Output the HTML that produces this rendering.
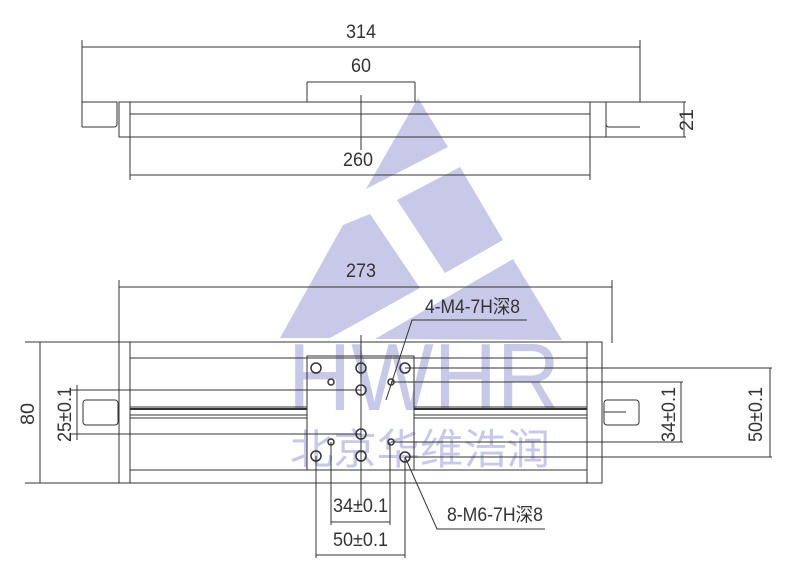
<!DOCTYPE html>
<html><head><meta charset="utf-8"><style>
html,body{margin:0;padding:0;background:#fff;}
svg{display:block;}
.t{font-family:"Liberation Sans",sans-serif;font-size:19px;fill:#333;}
</style></head><body>
<svg width="800" height="574" viewBox="0 0 800 574" xmlns="http://www.w3.org/2000/svg">
<!-- watermark -->
<g fill="#c8c9e8">
<polygon points="418,98 448,147 366,189"/>
<polygon points="397,200 460,167 503,240 445,273"/>
<polygon points="280,338 343,225 370,214 420,288 330,338"/>
<polygon points="375,339 513,259 562,340"/>
<text x="288" y="410" font-family="Liberation Sans,sans-serif" font-size="96" textLength="272" lengthAdjust="spacingAndGlyphs">HWHR</text>
<text x="290" y="464" font-family="'Liberation Sans','Noto Sans CJK SC',sans-serif" font-size="42" textLength="260" lengthAdjust="spacingAndGlyphs">北京华维浩润</text>
</g>
<g stroke="#333" stroke-width="1" fill="none">
<!-- top view -->
<line x1="82" y1="40" x2="82" y2="127"/><line x1="640" y1="40" x2="640" y2="102"/>
<line x1="82" y1="47" x2="640" y2="47"/>
<path d="M82,102 H117 V124 q0,3 -3,3 H82"/>
<path d="M640,102 H606 V124 q0,3 3,3 H640"/>
<rect x="119" y="102" width="487" height="35"/>
<line x1="130" y1="102" x2="130" y2="180"/><line x1="590" y1="102" x2="590" y2="180"/>
<line x1="130" y1="114" x2="590" y2="114"/>
<line x1="606" y1="102" x2="686" y2="102"/>
<line x1="606" y1="137" x2="686" y2="137"/>
<line x1="684" y1="102" x2="684" y2="137"/>
<line x1="307" y1="82" x2="307" y2="102"/><line x1="415" y1="82" x2="415" y2="102"/>
<line x1="307" y1="82" x2="415" y2="82"/>
<line x1="361" y1="95" x2="361" y2="150"/>
<line x1="130" y1="175" x2="590" y2="175"/>
<!-- bottom view -->
<line x1="119" y1="280" x2="119" y2="483"/><line x1="612" y1="280" x2="612" y2="343"/>
<line x1="119" y1="287" x2="612" y2="287"/>
<rect x="119" y="342" width="483" height="141"/>
<line x1="130" y1="342" x2="130" y2="483"/><line x1="587" y1="342" x2="587" y2="483"/>
<line x1="130" y1="358" x2="587" y2="358"/><line x1="130" y1="470" x2="587" y2="470"/>
<line x1="130" y1="407" x2="307" y2="407"/><line x1="414" y1="407" x2="587" y2="407"/>
<line x1="130" y1="409" x2="307" y2="409" stroke-width="2"/><line x1="414" y1="409" x2="587" y2="409" stroke-width="2"/>
<line x1="130" y1="415" x2="307" y2="415"/><line x1="414" y1="415" x2="587" y2="415"/>
<line x1="130" y1="418" x2="307" y2="418"/><line x1="414" y1="418" x2="587" y2="418"/>
<rect x="307" y="356" width="107" height="114"/>
<rect x="83" y="400" width="35" height="25" rx="3"/>
<rect x="604" y="400" width="35" height="25" rx="3"/>
<line x1="604" y1="412" x2="626" y2="412"/>
<line x1="25" y1="342" x2="119" y2="342"/><line x1="25" y1="483" x2="119" y2="483"/>
<line x1="40" y1="342" x2="40" y2="483"/>
<line x1="70" y1="390" x2="361" y2="390"/><line x1="70" y1="434" x2="361" y2="434"/>
<line x1="77" y1="385" x2="77" y2="440"/>
<line x1="405" y1="368" x2="772" y2="368"/><line x1="405" y1="457" x2="772" y2="457"/>
<line x1="770" y1="368" x2="770" y2="457"/>
<line x1="391" y1="382" x2="683" y2="382"/><line x1="391" y1="442" x2="683" y2="442"/>
<line x1="681" y1="382" x2="681" y2="442"/>
<line x1="361" y1="335" x2="361" y2="505"/>
<line x1="316" y1="456" x2="316" y2="558"/><line x1="405" y1="457" x2="405" y2="558"/>
<line x1="331" y1="442" x2="331" y2="525"/><line x1="390" y1="442" x2="390" y2="525"/>
<line x1="331" y1="522" x2="390" y2="522"/><line x1="316" y1="555" x2="405" y2="555"/>
<polyline points="386,400 412,320 527,320"/>
<polyline points="405,457 437,529 545,529"/>
<g stroke-width="1.5">
<circle cx="316" cy="368" r="5"/><circle cx="361" cy="368" r="5"/><circle cx="405" cy="368" r="5"/>
<circle cx="361" cy="390" r="5"/><circle cx="361" cy="434" r="5"/>
<circle cx="316" cy="456" r="5"/><circle cx="361" cy="456" r="5"/><circle cx="405" cy="457" r="5"/>
<circle cx="331" cy="382" r="3"/><circle cx="391" cy="382" r="3"/>
<circle cx="331" cy="442" r="3"/><circle cx="391" cy="442" r="3"/>
</g>
</g>
<g class="t">
<text x="346" y="38" textLength="30" lengthAdjust="spacingAndGlyphs">314</text>
<text x="351" y="72" textLength="20" lengthAdjust="spacingAndGlyphs">60</text>
<text x="343" y="166" textLength="30" lengthAdjust="spacingAndGlyphs">260</text>
<text x="346" y="277" textLength="30" lengthAdjust="spacingAndGlyphs">273</text>
<text x="425" y="313" textLength="95" lengthAdjust="spacingAndGlyphs" style="font-family:'Liberation Sans','Noto Sans CJK SC',sans-serif">4-M4-7H深8</text>
<text x="447" y="521" textLength="96" lengthAdjust="spacingAndGlyphs" style="font-family:'Liberation Sans','Noto Sans CJK SC',sans-serif">8-M6-7H深8</text>
<text x="333" y="512" textLength="55" lengthAdjust="spacingAndGlyphs">34±0.1</text>
<text x="333" y="546" textLength="55" lengthAdjust="spacingAndGlyphs">50±0.1</text>
<text transform="translate(34,425) rotate(-90)" textLength="22" lengthAdjust="spacingAndGlyphs">80</text>
<text transform="translate(71,442) rotate(-90)" textLength="55" lengthAdjust="spacingAndGlyphs">25±0.1</text>
<text transform="translate(675,442) rotate(-90)" textLength="55" lengthAdjust="spacingAndGlyphs">34±0.1</text>
<text transform="translate(762,442) rotate(-90)" textLength="55" lengthAdjust="spacingAndGlyphs">50±0.1</text>
<text transform="translate(693,131) rotate(-90)" textLength="22" lengthAdjust="spacingAndGlyphs">21</text>
</g>
</svg>
</body></html>
